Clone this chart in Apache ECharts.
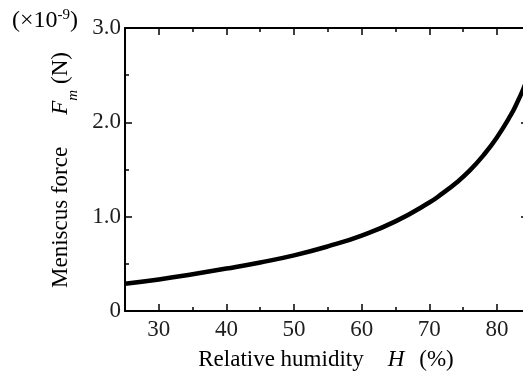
<!DOCTYPE html>
<html><head><meta charset="utf-8">
<script src="https://cdn.jsdelivr.net/npm/echarts@6/dist/echarts.min.js"></script>
<style>html,body{margin:0;padding:0;background:#fff}#c{width:523px;height:379px}</style>
</head><body><div id="c"></div>
<script>
// Data
const humidity = [25, 30, 35, 40, 45, 50, 55, 60, 65, 70, 72, 74, 76, 78, 80, 82, 83, 84, 84.6];
const force    = [0.29, 0.335, 0.39, 0.45, 0.515, 0.59, 0.685, 0.80, 0.95, 1.15, 1.25, 1.36, 1.49, 1.65, 1.84, 2.07, 2.21, 2.37, 2.48];
const xMajorTicks = [30, 40, 50, 60, 70, 80];
const xMinorTicks = [35, 45, 55, 65, 75];
const yTickLabels = {0: '0', 1: '1.0', 2: '2.0', 3: '3.0'};

const FONT = 'Liberation Serif';
const TXT = '#1e1e1e';
const X_MIN = 25, X_MAX = 84.6;

const gridBox = {left: 125, top: 28, width: 403, height: 283, outerBoundsMode: 'none', containLabel: false};

function xAx(grid, pos, ticks, len, showLine, showLabel) {
  return {
    type: 'value', gridIndex: grid, position: pos, min: X_MIN, max: X_MAX,
    axisLine: {show: showLine, onZero: false, lineStyle: {color: '#000', width: 2}},
    axisTick: {show: true, inside: true, length: len, customValues: ticks, lineStyle: {color: '#000', width: 1.5}},
    axisLabel: {show: showLabel, customValues: ticks, fontFamily: FONT, fontSize: 23, color: TXT, margin: 7},
    splitLine: {show: false}
  };
}

const option = {
  animation: false,
  backgroundColor: '#fff',
  grid: [Object.assign({}, gridBox), Object.assign({}, gridBox)],
  xAxis: [
    xAx(0, 'bottom', xMajorTicks, 7, true, true),
    xAx(0, 'top', xMajorTicks, 7, true, false),
    xAx(1, 'bottom', xMinorTicks, 4, false, false),
    xAx(1, 'top', xMinorTicks, 4, false, false)
  ],
  yAxis: [
    {
      type: 'value', gridIndex: 0, position: 'left', min: 0, max: 3, interval: 1,
      axisLine: {show: true, onZero: false, lineStyle: {color: '#000', width: 2}},
      axisTick: {show: true, inside: true, length: 7, lineStyle: {color: '#000', width: 1.5}},
      minorTick: {show: true, splitNumber: 2, length: 4, lineStyle: {color: '#000', width: 1.5}},
      axisLabel: {fontFamily: FONT, fontSize: 23, color: TXT, margin: 4, formatter: v => yTickLabels[v]},
      splitLine: {show: false}
    },
    {
      type: 'value', gridIndex: 0, position: 'right', min: 0, max: 3, interval: 1,
      axisLine: {show: true, onZero: false, lineStyle: {color: '#000', width: 2}},
      axisTick: {show: true, inside: true, length: 7, lineStyle: {color: '#000', width: 1.5}},
      minorTick: {show: true, splitNumber: 2, length: 4, lineStyle: {color: '#000', width: 1.5}},
      axisLabel: {show: false},
      splitLine: {show: false}
    },
    {
      type: 'value', gridIndex: 1, min: 0, max: 3, interval: 1,
      axisLine: {show: false}, axisTick: {show: false}, axisLabel: {show: false}, splitLine: {show: false}
    }
  ],
  graphic: [
    {
      type: 'text', x: 12, y: 8,
      style: {
        text: '{a|(×10}{s|-9}{a|)}',
        rich: {
          a: {fontFamily: FONT, fontSize: 24, lineHeight: 26, color: '#2b2b45', verticalAlign: 'middle'},
          s: {fontFamily: FONT, fontSize: 15, lineHeight: 14, color: '#2b2b45', verticalAlign: 'top'}
        }
      }
    },
    {
      type: 'text', x: 326, y: 360,
      style: {
        text: '{a|Relative humidity}{i|H}{a|(%)}',
        align: 'center', verticalAlign: 'middle',
        rich: {
          a: {fontFamily: FONT, fontSize: 23, color: TXT},
          i: {fontFamily: FONT, fontSize: 23, fontStyle: 'italic', color: TXT, padding: [0, 15, 0, 24]}
        }
      }
    },
    {
      type: 'text', x: 61, y: 170, rotation: Math.PI / 2,
      style: {
        text: '{a|Meniscus force}{i|F}{s|m}{a|(N)}',
        align: 'center', verticalAlign: 'middle',
        rich: {
          a: {fontFamily: FONT, fontSize: 23, lineHeight: 40, verticalAlign: 'middle', color: TXT},
          i: {fontFamily: FONT, fontSize: 23, lineHeight: 40, verticalAlign: 'middle', fontStyle: 'italic', color: TXT, padding: [0, 0, 0, 32]},
          s: {fontFamily: FONT, fontSize: 15, lineHeight: 15, verticalAlign: 'bottom', fontStyle: 'italic', color: TXT, padding: [0, 6, 0, 0]}
        }
      }
    }
  ],
  series: [{
    type: 'line', xAxisIndex: 0, yAxisIndex: 0,
    data: humidity.map((h, i) => [h, force[i]]),
    smooth: true, showSymbol: false, symbol: 'none',
    lineStyle: {color: '#000', width: 4.5},
    clip: true
  }]
};

const chart = echarts.init(document.getElementById('c'), null, {renderer: 'canvas'});
chart.setOption(option);
</script>
</body></html>
